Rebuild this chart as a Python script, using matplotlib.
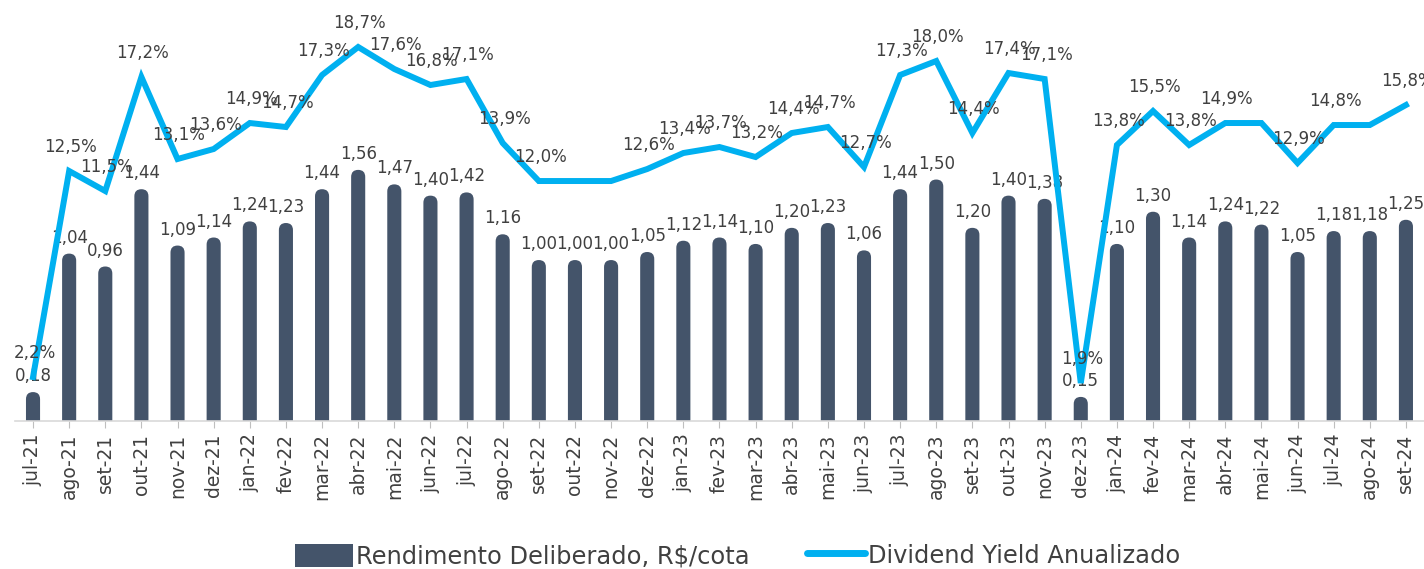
import numpy as np
import matplotlib
matplotlib.use('Agg')
from matplotlib import pyplot as plt
from matplotlib.patches import FancyBboxPatch

months = ['jul-21', 'ago-21', 'set-21', 'out-21', 'nov-21', 'dez-21',
          'jan-22', 'fev-22', 'mar-22', 'abr-22', 'mai-22', 'jun-22',
          'jul-22', 'ago-22', 'set-22', 'out-22', 'nov-22', 'dez-22',
          'jan-23', 'fev-23', 'mar-23', 'abr-23', 'mai-23', 'jun-23',
          'jul-23', 'ago-23', 'set-23', 'out-23', 'nov-23', 'dez-23',
          'jan-24', 'fev-24', 'mar-24', 'abr-24', 'mai-24', 'jun-24',
          'jul-24', 'ago-24', 'set-24']

rendimento = [0.18, 1.04, 0.96, 1.44, 1.09, 1.14, 1.24, 1.23, 1.44, 1.56,
              1.47, 1.40, 1.42, 1.16, 1.00, 1.00, 1.00, 1.05, 1.12, 1.14,
              1.10, 1.20, 1.23, 1.06, 1.44, 1.50, 1.20, 1.40, 1.38, 0.15,
              1.10, 1.30, 1.14, 1.24, 1.22, 1.05, 1.18, 1.18, 1.25]

dividend_yield = [2.2, 12.5, 11.5, 17.2, 13.1, 13.6, 14.9, 14.7, 17.3, 18.7,
                  17.6, 16.8, 17.1, 13.9, 12.0, 12.0, 12.0, 12.6, 13.4, 13.7,
                  13.2, 14.4, 14.7, 12.7, 17.3, 18.0, 14.4, 17.4, 17.1, 1.9,
                  13.8, 15.5, 13.8, 14.9, 14.9, 12.9, 14.8, 14.8, 15.8]

# labels hidden in the original (overlapping points)
hidden_dy = {'out-22', 'nov-22', 'mai-24', 'ago-24'}

BAR = '#44546a'
LINE = '#00b0f0'
TXT = '#404040'

plt.rcParams['font.family'] = ['DejaVu Sans']

fig = plt.figure(figsize=(14.24, 5.69), dpi=100)
ax = fig.add_axes([0.0105, 0.26, 0.9895, 0.74])
ax2 = ax.twinx()

x = np.arange(len(months))
width = 0.39
bars = ax.bar(x, rendimento, width=width, color=BAR, alpha=0)
ax.set_xlim(-0.5, len(months) - 0.5)
ax.set_ylim(0, 2.615)
ax2.set_ylim(0, 21.05)

# rounded top bars
aspect = (1 / 161.0) / (1 / 36.13)
for b in bars:
    x0 = b.get_x()
    h = b.get_height()
    p = FancyBboxPatch((x0, -0.3), width, h + 0.3,
                       boxstyle='round,pad=0,rounding_size=%f' % (width / 2),
                       mutation_aspect=aspect, fc=BAR, ec='none', zorder=2)
    ax.add_patch(p)

for xi, v in zip(x, rendimento):
    ax.annotate(f'{v:.2f}'.replace('.', ','), (xi, v), xytext=(0, 5),
                textcoords='offset points', ha='center', va='bottom',
                fontsize=12, color=TXT, zorder=3)

ax2.plot(x, dividend_yield, color=LINE, lw=4.3, solid_joinstyle='miter',
         zorder=4)
for m, xi, v in zip(months, x, dividend_yield):
    if m in hidden_dy:
        continue
    ax2.annotate(f'{v:.1f}%'.replace('.', ','), (xi, v), xytext=(1, 11),
                 textcoords='offset points', ha='center', va='bottom',
                 fontsize=12, color=TXT, zorder=5)

for a in (ax, ax2):
    for s in ('top', 'right', 'left'):
        a.spines[s].set_visible(False)
    a.set_yticks([])
ax2.spines['bottom'].set_visible(False)
ax.spines['bottom'].set_color('#d9d9d9')
ax.spines['bottom'].set_linewidth(1.2)

ax.set_xticks(x)
ax.set_xticklabels(months, rotation=90, fontsize=13.5, color=TXT)
ax.tick_params(axis='x', length=5, color='#bfbfbf', pad=4)

# legend
h1 = plt.Rectangle((0, 0), 1, 1, fc=BAR, ec='none')
h2 = plt.Line2D([0], [0], color=LINE, lw=5, solid_capstyle='round')
fig.legend([h1, h2], ['Rendimento Deliberado, R$/cota',
                      'Dividend Yield Anualizado'],
           loc='center', bbox_to_anchor=(0.518, 0.023), ncol=2, frameon=False,
           fontsize=17.4, labelcolor=TXT, handlelength=2.4, handleheight=1.1,
           handletextpad=0.1, columnspacing=2.4)

fig.savefig('out.png', dpi=100)
